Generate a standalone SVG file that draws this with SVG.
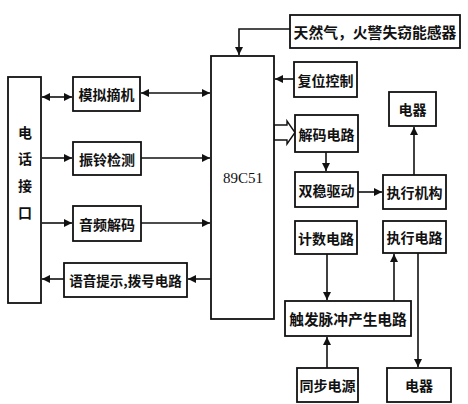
<svg xmlns="http://www.w3.org/2000/svg" width="468" height="404" viewBox="0 0 468 404">
<style>
.b{fill:#fff;stroke:#111;stroke-width:1.8}
.t{font-family:"Noto Sans CJK SC","Noto Sans",sans-serif;font-size:14px;font-weight:bold;fill:#111;text-anchor:middle;dominant-baseline:central}
.l{fill:none;stroke:#111;stroke-width:1.6}
</style>
<defs>
<marker id="a" viewBox="0 0 10 10" refX="10" refY="5" markerWidth="8" markerHeight="8" orient="auto-start-reverse" markerUnits="userSpaceOnUse">
<path d="M0,0L10,5L0,10z" fill="#111"/>
</marker>
</defs>
<rect width="468" height="404" fill="#fff"/>
<g id="connectors">
<line class="l" x1="42" y1="97" x2="72" y2="97" marker-start="url(#a)" marker-end="url(#a)"/>
<line class="l" x1="141" y1="93" x2="210" y2="93" marker-start="url(#a)" marker-end="url(#a)"/>
<line class="l" x1="42" y1="158" x2="72" y2="158" marker-end="url(#a)"/>
<line class="l" x1="141" y1="158" x2="210" y2="158" marker-end="url(#a)"/>
<line class="l" x1="42" y1="223" x2="72" y2="223" marker-end="url(#a)"/>
<line class="l" x1="141" y1="223" x2="210" y2="223" marker-end="url(#a)"/>
<line class="l" x1="211" y1="279" x2="188" y2="279" marker-end="url(#a)"/>
<line class="l" x1="64" y1="279" x2="42" y2="279" marker-end="url(#a)"/>
<polyline class="l" points="290,29 239,29 239,55" marker-end="url(#a)"/>
<line class="l" x1="294" y1="79" x2="275" y2="79" marker-end="url(#a)"/>
<polygon points="274,125 287,125 287,121 295,132.5 287,144 287,140 274,140" fill="#fff" stroke="#111" stroke-width="1.4"/>
<line class="l" x1="326" y1="152" x2="326" y2="171" marker-end="url(#a)"/>
<line class="l" x1="358" y1="192" x2="382" y2="192" marker-end="url(#a)"/>
<line class="l" x1="414" y1="175" x2="414" y2="127" marker-end="url(#a)"/>
<line class="l" x1="327" y1="254" x2="327" y2="300" marker-end="url(#a)"/>
<line class="l" x1="394" y1="301" x2="394" y2="254" marker-end="url(#a)"/>
<line class="l" x1="418" y1="253" x2="418" y2="367" marker-end="url(#a)"/>
<line class="l" x1="327" y1="368" x2="327" y2="337" marker-end="url(#a)"/>
</g>
<g id="phone"><rect class="b" x="8" y="77" width="33" height="226"/>
<text class="t" x="25" y="132">电</text><text class="t" x="25" y="158">话</text><text class="t" x="25" y="185">接</text><text class="t" x="25" y="212">口</text></g>
<g id="mnzj"><rect class="b" x="73" y="77" width="67" height="34"/><text class="t" x="106.5" y="94">模拟摘机</text></g>
<g id="zljc"><rect class="b" x="73" y="142" width="68" height="33"/><text class="t" x="107" y="158.5">振铃检测</text></g>
<g id="ypjm"><rect class="b" x="73" y="206" width="68" height="35"/><text class="t" x="107" y="223.5">音频解码</text></g>
<g id="yyts"><rect class="b" x="64" y="263" width="123" height="34"/><text class="t" x="125.5" y="280" style="font-size:13.5px">语音提示,拨号电路</text></g>
<g id="mcu"><rect class="b" x="211" y="56" width="63" height="263"/><text class="t" x="243" y="178" style="font-family:'Liberation Serif',serif;font-size:15px;font-weight:normal">89C51</text></g>
<g id="sensor"><rect class="b" x="290" y="15" width="170" height="33"/><text class="t" x="375" y="31.5" style="font-size:14.8px">天然气，火警失窃能感器</text></g>
<g id="reset"><rect class="b" x="294" y="62" width="63" height="35"/><text class="t" x="325.5" y="79.5">复位控制</text></g>
<g id="dq1"><rect class="b" x="389" y="92" width="47" height="34"/><text class="t" x="412.5" y="109">电器</text></g>
<g id="jmdl"><rect class="b" x="295" y="115" width="63" height="37"/><text class="t" x="326.5" y="133.5">解码电路</text></g>
<g id="swqd"><rect class="b" x="295" y="172" width="63" height="35"/><text class="t" x="326.5" y="189.5">双稳驱动</text></g>
<g id="zxjg"><rect class="b" x="383" y="175" width="63" height="34"/><text class="t" x="414.5" y="192">执行机构</text></g>
<g id="jsdl"><rect class="b" x="295" y="221" width="62" height="33"/><text class="t" x="326" y="237.5">计数电路</text></g>
<g id="zxdl"><rect class="b" x="383" y="221" width="63" height="32"/><text class="t" x="414.5" y="237">执行电路</text></g>
<g id="cfmc"><rect class="b" x="285" y="301" width="126" height="35"/><text class="t" x="348" y="318.5" style="font-size:14.7px">触发脉冲产生电路</text></g>
<g id="tbdy"><rect class="b" x="297" y="368" width="61" height="34"/><text class="t" x="327.5" y="385">同步电源</text></g>
<g id="dq2"><rect class="b" x="387" y="368" width="64" height="34"/><text class="t" x="419" y="385">电器</text></g>
</svg>
